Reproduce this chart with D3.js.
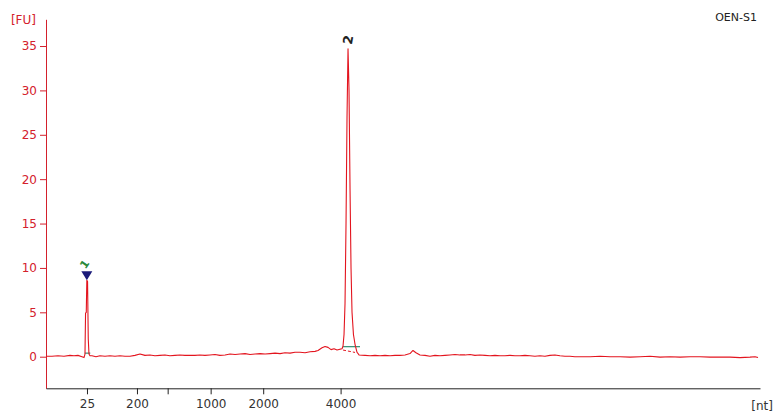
<!DOCTYPE html>
<html>
<head>
<meta charset="utf-8">
<script src="https://cdn.jsdelivr.net/npm/d3@7"></script>
<style>
  html, body { margin: 0; padding: 0; background: #fff; }
  svg { display: block; font-family: "DejaVu Sans", Verdana, sans-serif; }
</style>
</head>
<body>
<svg id="chart" width="776" height="414"></svg>
<script>
// Electropherogram trace: migration time (s) and fluorescence (FU)
const traceTime = [
  19.00, 19.42, 19.84, 20.26, 20.68, 20.96, 21.24, 21.52, 21.66, 21.73,
  21.77, 21.82, 21.86, 21.91, 21.96, 22.01, 22.08, 22.22, 22.50, 22.78,
  23.13, 23.48, 23.83, 24.18, 24.53, 24.88, 25.23, 25.58, 25.93, 26.28,
  26.63, 26.98, 27.33, 27.68, 28.03, 28.38, 28.73, 29.08, 29.43, 29.78,
  30.13, 30.48, 30.83, 31.18, 31.54, 31.89, 32.24, 32.59, 32.94, 33.29,
  33.64, 33.99, 34.34, 34.69, 35.04, 35.39, 35.74, 36.09, 36.44, 36.79,
  37.14, 37.49, 37.84, 38.05, 38.33, 38.54, 38.75, 38.96, 39.17, 39.38,
  39.59, 39.73, 39.80, 39.87, 39.94, 40.01, 40.08, 40.15, 40.22, 40.29,
  40.36, 40.43, 40.53, 40.64, 40.78, 40.92, 41.34, 41.69, 42.04, 42.39,
  42.74, 43.09, 43.44, 43.79, 44.14, 44.49, 44.70, 44.91, 45.19, 45.54,
  45.89, 46.24, 46.59, 46.94, 47.29, 47.64, 47.99, 48.34, 48.69, 49.04,
  49.39, 49.74, 50.09, 50.44, 50.79, 51.14, 51.49, 51.84, 52.19, 52.54,
  52.89, 53.24, 53.59, 53.94, 54.29, 54.64, 54.99, 55.34, 55.69, 56.04,
  56.39, 57.10, 57.80, 58.50, 59.20, 59.90, 60.60, 61.30, 62.00, 62.70,
  63.40, 64.10, 64.80, 65.50, 66.20, 66.90, 67.60, 68.30, 68.65, 68.86
];
const traceFU = [
  0.05, 0.05, 0.10, 0.05, 0.15, 0.10, 0.15, 0.00, -0.10, 0.30,
  4.90, 5.00, 8.60, 8.50, 2.00, 0.30, 0.10, 0.10, 0.00, 0.10,
  0.05, 0.10, 0.05, 0.10, 0.05, 0.05, 0.15, 0.30, 0.15, 0.20,
  0.10, 0.15, 0.20, 0.10, 0.15, 0.20, 0.15, 0.15, 0.15, 0.20,
  0.15, 0.20, 0.25, 0.15, 0.20, 0.30, 0.25, 0.30, 0.35, 0.25,
  0.30, 0.35, 0.30, 0.35, 0.40, 0.35, 0.45, 0.40, 0.50, 0.50,
  0.45, 0.55, 0.60, 0.70, 1.00, 1.15, 1.05, 0.80, 0.90, 0.75,
  0.85, 0.90, 1.20, 2.50, 6.00, 15.0, 27.0, 34.7, 30.0, 19.0,
  10.0, 5.00, 2.50, 1.40, 0.50, 0.20, 0.15, 0.10, 0.15, 0.10,
  0.15, 0.10, 0.15, 0.15, 0.20, 0.35, 0.70, 0.45, 0.20, 0.15,
  0.05, 0.15, 0.10, 0.15, 0.20, 0.25, 0.20, 0.20, 0.25, 0.15,
  0.20, 0.15, 0.10, 0.15, 0.10, 0.10, 0.15, 0.10, 0.10, 0.15,
  0.10, 0.05, 0.10, 0.05, 0.15, 0.20, 0.10, 0.05, 0.05, 0.00,
  0.00, 0.00, 0.05, 0.00, 0.00, -0.05, 0.00, 0.05, -0.05, 0.00,
  -0.05, 0.00, 0.00, -0.05, -0.05, -0.05, -0.10, -0.05, 0.00, -0.10
];

// Ladder size ticks (nt) and their migration times (s)
const ladderTime = [21.87, 25.37, 27.52, 30.53, 34.21, 39.63];
const ladderLabel = ["25", "200", "", "1000", "2000", "4000"];

// FU axis ticks
const fuTicks = [0, 5, 10, 15, 20, 25, 30, 35];

// Detected peaks: number, apex time, apex FU, baseline start/end time and FU
const peakNum = ["1", "2"];
const peakTime = [21.86, 40.15];
const peakFU = [8.6, 34.7];
const peakStart = [21.72, 39.80];
const peakEnd = [22.10, 40.99];
const peakBaseFU = [0.4, 1.13];
const peakIsMarker = [true, false];

// Interpolated baseline under peak 2 (dashed)
const dashTime = [39.80, 40.64];
const dashFU = [0.75, 0.48];

const sampleName = "OEN-S1";

const red = "#e3141e";
const axisRed = "#d4202c";
const textGrey = "#333333";

const svg = d3.select("#chart");

const x = d3.scaleLinear().domain([19, 69]).range([46, 760]);
const y = d3.scaleLinear().domain([-3.56, 38.01]).range([388.3, 19.3]);

// Y axis (FU)
const yAxis = svg.append("g")
  .attr("transform", `translate(${x(19)},0)`)
  .call(d3.axisLeft(y).tickValues(fuTicks).tickSize(6).tickPadding(3).tickSizeOuter(0));
yAxis.select(".domain").attr("stroke", axisRed);
yAxis.selectAll(".tick line").attr("stroke", axisRed);
yAxis.selectAll(".tick text")
  .attr("fill", axisRed)
  .style("font-size", "12px")
  .style("font-family", "DejaVu Sans, sans-serif");

svg.append("text")
  .attr("x", 36).attr("y", 24)
  .attr("text-anchor", "end")
  .attr("fill", axisRed)
  .style("font-size", "12px")
  .text("[FU]");

// X axis (nt)
const xAxis = svg.append("g")
  .attr("transform", `translate(0,${y(-3.56)})`)
  .call(d3.axisBottom(x).tickValues(ladderTime)
    .tickFormat((d, i) => ladderLabel[i])
    .tickSize(6).tickPadding(5).tickSizeOuter(0));
xAxis.select(".domain").attr("stroke", "#222");
xAxis.selectAll(".tick line").attr("stroke", "#222");
xAxis.selectAll(".tick text")
  .attr("fill", textGrey)
  .style("font-size", "12px")
  .style("font-family", "DejaVu Sans, sans-serif");

svg.append("text")
  .attr("x", 773).attr("y", 410)
  .attr("text-anchor", "end")
  .attr("fill", textGrey)
  .style("font-size", "12px")
  .text("[nt]");

svg.append("text")
  .attr("x", 757).attr("y", 21)
  .attr("text-anchor", "end")
  .attr("fill", "#222")
  .style("font-size", "11px")
  .text(sampleName);

// Peak baselines
peakNum.forEach((n, i) => {
  svg.append("line")
    .attr("x1", x(peakStart[i])).attr("x2", x(peakEnd[i]))
    .attr("y1", y(peakBaseFU[i])).attr("y2", y(peakBaseFU[i]))
    .attr("stroke", "#2f8f72").attr("stroke-width", 1.2);
});

svg.append("line")
  .attr("x1", x(dashTime[0])).attr("x2", x(dashTime[1]))
  .attr("y1", y(dashFU[0])).attr("y2", y(dashFU[1]))
  .attr("stroke", red).attr("stroke-width", 1)
  .attr("stroke-dasharray", "3,2");

// Trace
const pts = traceTime.map((t, i) => [t, traceFU[i]]);
svg.append("path")
  .datum(pts)
  .attr("fill", "none")
  .attr("stroke", red)
  .attr("stroke-width", 1.1)
  .attr("stroke-linejoin", "round")
  .attr("d", d3.line().x(d => x(d[0])).y(d => y(d[1])));

// Marker triangle on the lower marker peak
peakNum.forEach((n, i) => {
  if (!peakIsMarker[i]) return;
  const px = x(peakTime[i]), py = y(peakFU[i]);
  svg.append("path")
    .attr("d", `M${px - 5.5},${py - 9}L${px + 5.5},${py - 9}L${px},${py}Z`)
    .attr("fill", "#1b1b7a");
});

// Peak numbers, drawn turned on their side
peakNum.forEach((n, i) => {
  const px = x(peakTime[i]);
  const py = y(peakFU[i]) - (peakIsMarker[i] ? 16 : 9);
  svg.append("text")
    .attr("transform", `translate(${px - (peakIsMarker[i] ? 2 : 0)},${py}) rotate(${peakIsMarker[i] ? -55 : -80})`)
    .attr("text-anchor", "middle")
    .attr("dominant-baseline", "central")
    .attr("fill", peakIsMarker[i] ? "#2a8a3a" : "#222")
    .style("font-size", peakIsMarker[i] ? "11px" : "13px")
    .style("font-weight", "bold")
    .text(n);
});
</script>
</body>
</html>
